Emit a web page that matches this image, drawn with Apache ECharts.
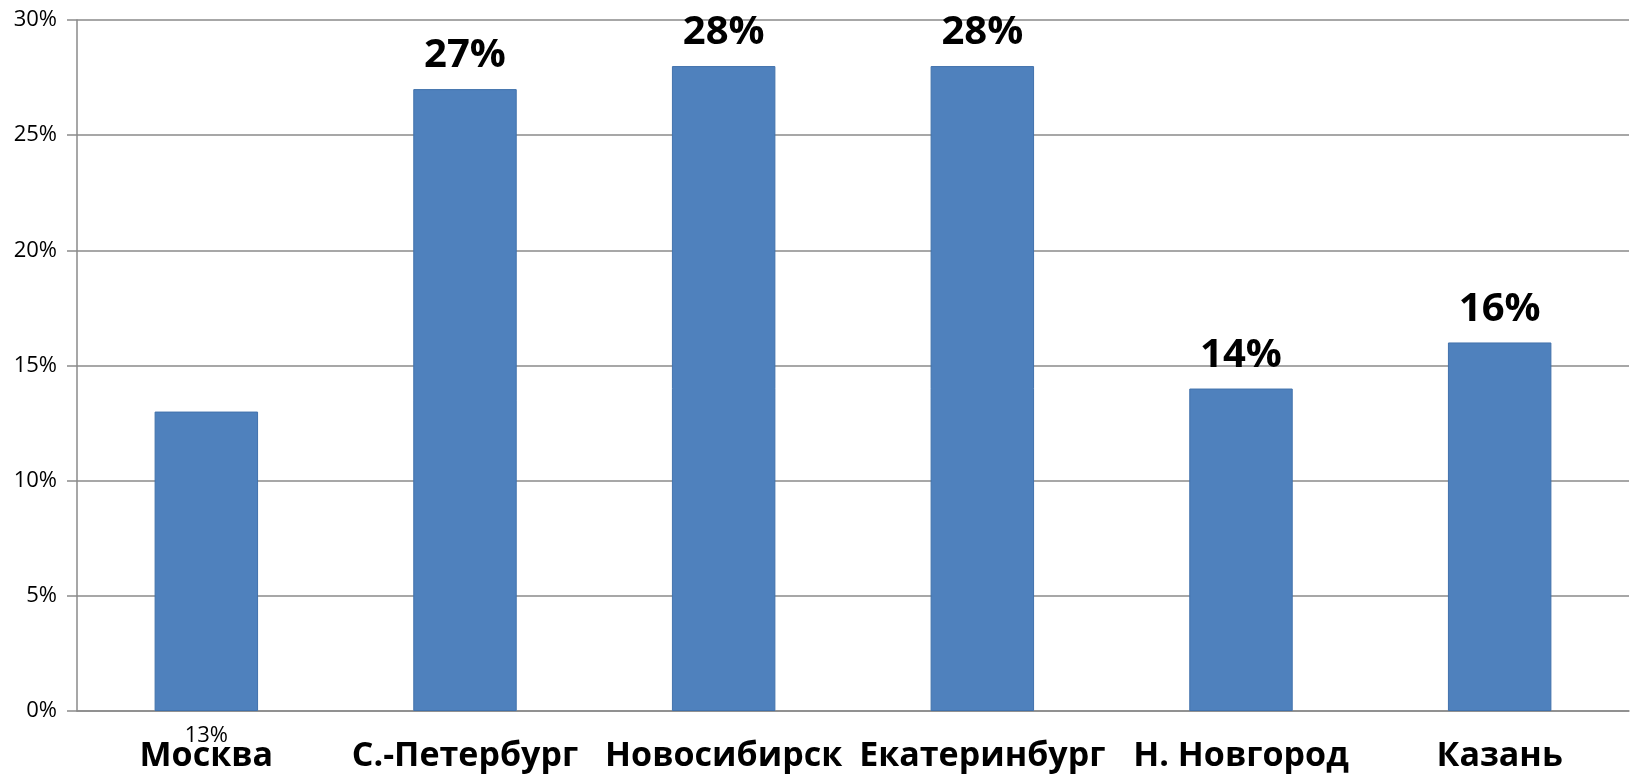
<!DOCTYPE html>
<html>
<head>
<meta charset="utf-8">
<script src="https://cdn.jsdelivr.net/npm/echarts@6/dist/echarts.min.js"></script>
<style>
  html, body { margin: 0; padding: 0; background: #fff; }
  #main { width: 1633px; height: 778px; }
</style>
</head>
<body>
<div id="main"></div>
<script>
// города
var cities = ['Москва', 'С.-Петербург', 'Новосибирск', 'Екатеринбург', 'Н. Новгород', 'Казань'];
// доля, %
var shares = [13, 27, 28, 28, 14, 16];
var yTicks = [0, 5, 10, 15, 20, 25, 30];

window.onload = function () {
  myecharts();
}

function myecharts() {
  var mychart = echarts.init(document.getElementById('main'));
  var font = '"Open Sans", "DejaVu Sans", sans-serif';
  var gray = '#8a8a8a';

  var seriesData = shares.map(function (v, i) {
    if (i === 0) {
      // у Москвы подпись мелкая и под осью
      return {
        value: v,
        label: { position: 'bottom', distance: 14, fontSize: 22, fontWeight: 'normal' }
      };
    }
    return v;
  });

  var option = {
    animation: false,
    grid: { left: 77, right: 4, top: 20, bottom: 67, outerBoundsMode: 'none' },
    xAxis: {
      type: 'category',
      data: cities,
      axisLine: { lineStyle: { color: gray, width: 1.5 } },
      axisTick: { length: 12, lineStyle: { color: gray, width: 1.5 } },
      axisLabel: {
        margin: 28, color: '#000', fontSize: 34, fontWeight: 'bold',
        fontFamily: font, interval: 0
      }
    },
    yAxis: {
      type: 'value',
      min: yTicks[0],
      max: yTicks[yTicks.length - 1],
      interval: 5,
      axisLine: { show: true, lineStyle: { color: gray, width: 1.5 } },
      axisTick: { show: true, length: 10, lineStyle: { color: gray, width: 1.5 } },
      splitLine: { lineStyle: { color: gray, width: 1.5 } },
      axisLabel: {
        margin: 20, color: '#000', fontSize: 22, fontFamily: font,
        formatter: '{value}%'
      }
    },
    series: [{
      type: 'bar',
      data: seriesData,
      barWidth: '40%',
      itemStyle: { color: '#4f81bd', borderColor: '#4272ac', borderWidth: 1 },
      label: {
        show: true,
        position: 'top',
        distance: 13,
        color: '#000',
        fontSize: 40,
        fontWeight: 'bold',
        fontFamily: font,
        formatter: '{c}%'
      }
    }]
  };
  mychart.setOption(option);
}
</script>
</body>
</html>
